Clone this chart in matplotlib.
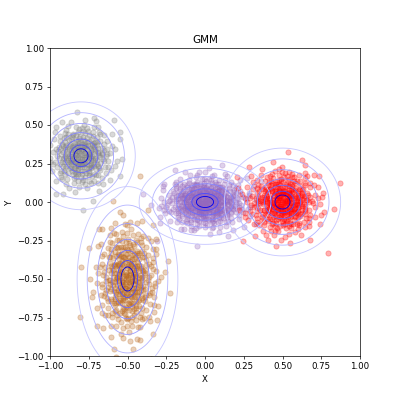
import numpy as np
import matplotlib
matplotlib.use("Agg")
import matplotlib.pyplot as plt

colors = ["gray", "tab:purple", "red", "#b8651b"]
mean_x = [-0.8, 0.0, 0.5, -0.5]
mean_y = [0.3, 0.0, 0.0, -0.5]
std_x = [0.07, 0.085, 0.075, 0.065]
std_y = [0.07, 0.055, 0.07, 0.12]
counts = [300, 500, 400, 400]
levels = [0.65, 1.0, 1.55, 2.15, 3.0, 4.0, 5.0]

def halton(n, base, start):
    out = np.zeros(n)
    for j in range(n):
        i, f, r = j + start, 1.0, 0.0
        while i > 0:
            f /= base
            r += f * (i % base)
            i //= base
        out[j] = r
    return out

def quasi_normal(n, start):
    u1 = np.clip(halton(n, 2, start), 1e-4, 1)
    u2 = halton(n, 3, start)
    r = np.sqrt(-2 * np.log(u1))
    return r * np.cos(2 * np.pi * u2), r * np.sin(2 * np.pi * u2)

fig = plt.figure(figsize=(6.4, 6.4), dpi=62.5)
ax = fig.add_axes([0.125, 0.11, 0.775, 0.77])
for i in range(4):
    zx, zy = quasi_normal(counts[i], 1 + 997 * i)
    ax.scatter(mean_x[i] + std_x[i] * 1.5 * zx, mean_y[i] + std_y[i] * 1.5 * zy,
               s=36, color=colors[i], alpha=0.3)
gx, gy = np.meshgrid(np.linspace(-1, 1, 500), np.linspace(-1, 1, 500))
lc = ["#0000ee", "#4a4aff", "#6a6aff", "#8686ff", "#a0a0ff", "#b6b6ff", "#c8c8ff"]
for i in range(4):
    d = np.sqrt(((gx - mean_x[i]) / std_x[i]) ** 2 + ((gy - mean_y[i]) / std_y[i]) ** 2)
    ax.contour(gx, gy, d, levels=levels, colors=lc, linewidths=1.0)
ax.set_xlim(-1, 1)
ax.set_ylim(-1, 1)
ax.set_title("GMM")
ax.set_xlabel("X")
ax.set_ylabel("Y")
fig.savefig("out.png", dpi=62.5)
